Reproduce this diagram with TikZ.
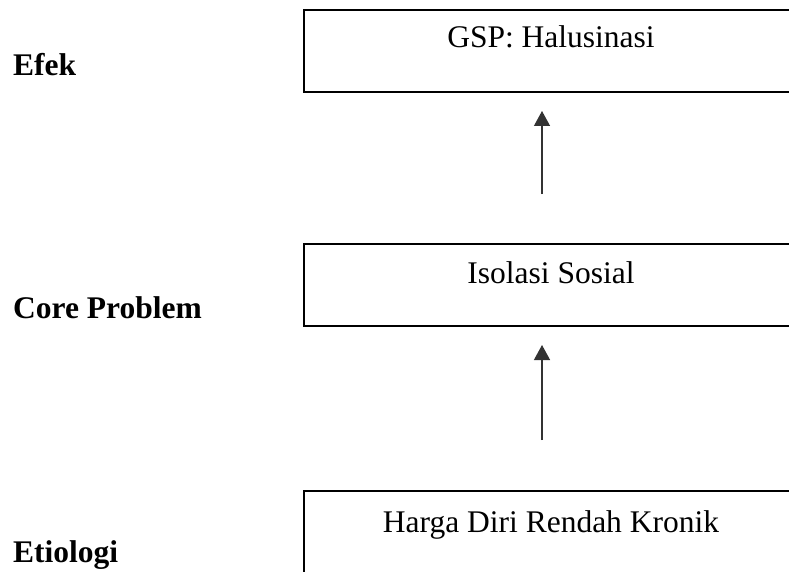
\documentclass[tikz,border=0pt]{standalone}
\usepackage{fontspec}
\setmainfont{Liberation Serif}
\usetikzlibrary{arrows.meta}
\tikzset{
  x=1pt, y=-1pt,
  boxstyle/.style={draw=black, line width=2pt, rectangle, inner sep=0pt, outer sep=0pt, anchor=north west},
  boxtext/.style={font=\fontsize{31.5}{36}\selectfont, anchor=base, inner sep=0pt},
  sidelabel/.style={font=\fontsize{31.5}{36}\selectfont\bfseries, anchor=base west, inner sep=0pt},
  uparrow/.style={draw=black!80, line width=1.3pt, -{Triangle[width=16pt,length=15pt]}}
}
\begin{document}
\begin{tikzpicture}
\useasboundingbox (0,0) rectangle (789,572);
\clip (0,0) rectangle (789,572);
\fill[white] (0,0) rectangle (789,572);
% boxes (cut off at the right and, for the last one, at the bottom)
\node[boxstyle, minimum width=540pt, minimum height=82pt] (b1) at (304,10) {};
\node[boxstyle, minimum width=540pt, minimum height=82pt] (b2) at (304,244) {};
\node[boxstyle, minimum width=540pt, minimum height=140pt] (b3) at (304,491) {};
% box texts
\node[boxtext] (t1) at (551,48) {GSP: Halusinasi};
\node[boxtext] (t2) at (551,283) {Isolasi Sosial};
\node[boxtext] (t3) at (551,532) {Harga Diri Rendah Kronik};
% side labels
\node[sidelabel] (l1) at (13,76) {Efek};
\node[sidelabel] (l2) at (13,318) {Core Problem};
\node[sidelabel] (l3) at (13,562) {Etiologi};
% arrows
\coordinate (a1s) at (542,194);
\coordinate (a1e) at (542,111);
\coordinate (a2s) at (542,440);
\coordinate (a2e) at (542,345);
\draw[uparrow] (a1s) -- (a1e);
\draw[uparrow] (a2s) -- (a2e);
\end{tikzpicture}
\end{document}
